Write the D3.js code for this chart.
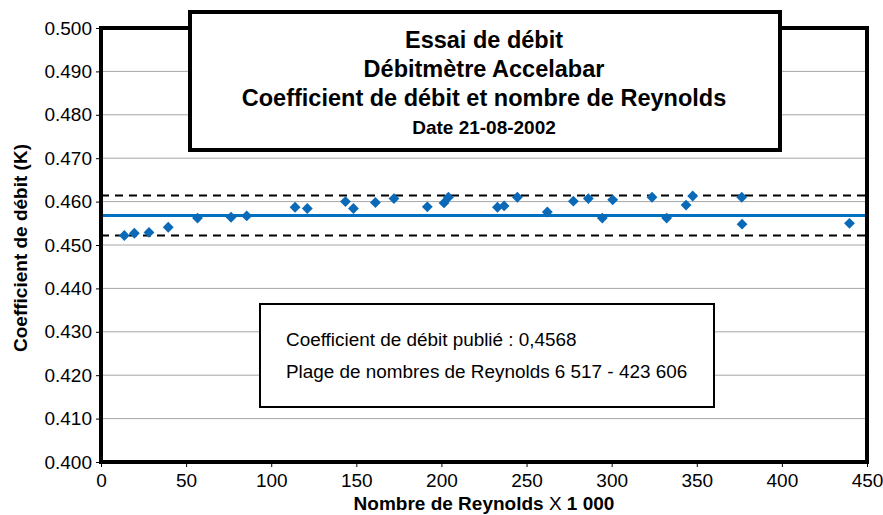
<!DOCTYPE html>
<html><head><meta charset="utf-8">
<script src="https://cdn.jsdelivr.net/npm/d3@7"></script>
<style>body{margin:0;background:#fff}svg{display:block}text{font-family:"Liberation Sans",Arial,sans-serif}</style>
</head><body><svg id="c" width="883" height="515"></svg>
<script>
const reynolds = [13.7,19.6,28.2,39.5,56.7,76.4,85.6,114.0,121.2,143.6,148.3,161.2,172.1,191.7,201.5,204.1,232.9,236.8,244.6,262.2,277.5,286.3,294.5,300.6,323.7,332.3,343.7,347.6,376.4,376.6,439.7];
const coeff = [0.4522,0.4527,0.4529,0.4541,0.4562,0.4564,0.4567,0.4587,0.4584,0.4600,0.4584,0.4598,0.4607,0.4588,0.4597,0.4610,0.4587,0.4590,0.4610,0.4576,0.4601,0.4607,0.4562,0.4604,0.4610,0.4562,0.4592,0.4613,0.4610,0.4548,0.4550];
const published = 0.4568;
const upperLimit = 0.4614;
const lowerLimit = 0.4522;
const xTicks = [0,50,100,150,200,250,300,350,400,450];
const yTicks = [0.400,0.410,0.420,0.430,0.440,0.450,0.460,0.470,0.480,0.490,0.500];
const titleLines = ["Essai de débit","Débitmètre Accelabar","Coefficient de débit et nombre de Reynolds"];
const dateLine = "Date 21-08-2002";
const infoLines = ["Coefficient de débit publié : 0,4568","Plage de nombres de Reynolds 6 517 - 423 606"];

const svg = d3.select("#c");
const L=101, R=867, T=28, B=462;
const x = d3.scaleLinear().domain([0,450]).range([L,R]);
const y = d3.scaleLinear().domain([0.4,0.5]).range([B,T]);

// gridlines
svg.append("g").selectAll("line").data(yTicks.slice(1,-1)).join("line")
  .attr("x1",L).attr("x2",R).attr("y1",d=>y(d)).attr("y2",d=>y(d))
  .attr("stroke","#a6a6a6").attr("stroke-width",1);

// axes
const ya = svg.append("g").attr("transform",`translate(${L},0)`)
  .call(d3.axisLeft(y).tickValues(yTicks).tickFormat(d3.format(".3f")).tickSize(5).tickPadding(4));
const xa = svg.append("g").attr("transform",`translate(0,${B})`)
  .call(d3.axisBottom(x).tickValues(xTicks).tickSize(5).tickPadding(7));
[ya,xa].forEach(a=>{a.select(".domain").remove();a.selectAll("line").attr("stroke","#000");
  a.selectAll("text").attr("font-size",19).attr("fill","#000").style("font-family","'Liberation Sans',Arial,sans-serif");});

// limit lines
[upperLimit,lowerLimit].forEach(v=>{
  svg.append("line").attr("x1",L).attr("x2",R).attr("y1",y(v)).attr("y2",y(v))
    .attr("stroke","#000").attr("stroke-width",2).attr("stroke-dasharray","8,6");
});
svg.append("line").attr("x1",L).attr("x2",R).attr("y1",y(published)).attr("y2",y(published))
  .attr("stroke","#0070c0").attr("stroke-width",3);

// points
const diamond = d3.symbol().type(d3.symbolDiamond2).size(75);
svg.append("g").selectAll("path").data(reynolds.map((r,i)=>[r,coeff[i]])).join("path")
  .attr("d",diamond).attr("transform",d=>`translate(${x(d[0])},${y(d[1])})`)
  .attr("fill","#0a6ab8");

// plot frame
svg.append("rect").attr("x",L).attr("y",T).attr("width",R-L).attr("height",B-T)
  .attr("fill","none").attr("stroke","#000").attr("stroke-width",4);

// title box
svg.append("rect").attr("x",190).attr("y",12).attr("width",590).attr("height",138)
  .attr("fill","#fff").attr("stroke","#000").attr("stroke-width",4);
svg.append("g").selectAll("text").data(titleLines).join("text")
  .attr("x",484).attr("y",(d,i)=>48+i*29).attr("text-anchor","middle")
  .attr("font-size",23.5).attr("font-weight","bold").text(d=>d);
svg.append("text").attr("x",484).attr("y",134).attr("text-anchor","middle")
  .attr("font-size",19).attr("font-weight","bold").text(dateLine);

// info box
svg.append("rect").attr("x",260).attr("y",304).attr("width",454).attr("height",103)
  .attr("fill","#fff").attr("stroke","#000").attr("stroke-width",2);
svg.append("g").selectAll("text").data(infoLines).join("text")
  .attr("x",286).attr("y",(d,i)=>346+i*32).attr("font-size",18.9).text(d=>d);

// axis titles
svg.append("text").attr("transform","translate(27,248) rotate(-90)").attr("text-anchor","middle")
  .attr("font-size",19).attr("font-weight","bold").text("Coefficient de débit (K)");
const xt = svg.append("text").attr("x",484).attr("y",510).attr("text-anchor","middle")
  .attr("font-size",19).attr("font-weight","bold");
xt.append("tspan").text("Nombre de Reynolds ");
xt.append("tspan").attr("font-weight","normal").text("X");
xt.append("tspan").text(" 1 000");
</script></body></html>
